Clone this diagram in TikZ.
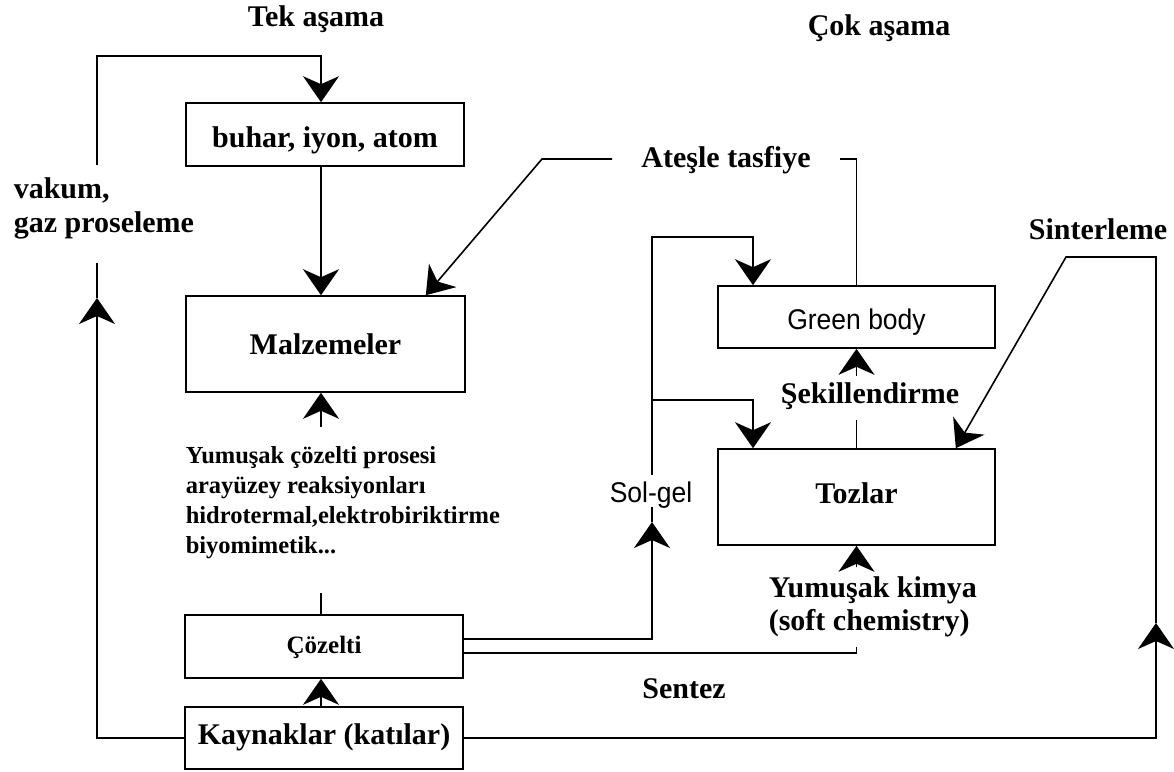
\documentclass[tikz,border=0pt]{standalone}
\usepackage{fontspec}
\setmainfont{Liberation Serif}
\newfontfamily\sansf[FakeStretch=0.93]{Liberation Sans}
\usetikzlibrary{arrows.meta}
\begin{document}
\begin{tikzpicture}[x=1pt,y=-1pt, line width=1.6pt,
 box/.style={draw, rectangle, inner sep=0pt},
 arr/.style={-{Stealth[length=26pt,width=36pt,inset=8pt]}},
 bl/.style={font=\fontsize{30}{34}\selectfont\bfseries},
 sm/.style={font=\fontsize{24.5}{30}\selectfont\bfseries},
 sf/.style={font=\fontsize{28.5}{32}\selectfont\sansf},
 lab/.style={anchor=base, inner sep=0pt}]
\useasboundingbox (0,0) rectangle (1174,771);

% boxes
\node[box, minimum width=278pt, minimum height=63pt, bl, text height=25pt, text depth=0pt] (buhar) at (325,134.5) {buhar, iyon, atom};
\node[box, minimum width=279pt, minimum height=96pt, bl, text height=20pt, text depth=0pt] (malz) at (325.5,344) {Malzemeler};
\node[box, minimum width=278pt, minimum height=63pt, sm, font=\fontsize{25}{30}\selectfont\bfseries, text height=13pt, text depth=0pt] (coz) at (324,646.5) {Çözelti};
\node[box, minimum width=278pt, minimum height=62pt, bl, text height=12pt, text depth=0pt] (kay) at (324,738) {Kaynaklar (katılar)};
\node[box, minimum width=277pt, minimum height=62pt, sf, text height=24pt, text depth=0pt] (gb) at (856.5,317) {Green body};
\node[box, minimum width=277pt, minimum height=96pt, bl, text height=12pt, text depth=0pt] (toz) at (856.5,497) {Tozlar};

% labels
\node[lab, bl] (tek) at (316,27) {Tek aşama};
\node[lab, bl] (cok) at (879,35) {Çok aşama};
\node[lab, bl, anchor=base west] (vak) at (13,198) {vakum,};
\node[lab, bl, anchor=base west] (gaz) at (13,232) {gaz proseleme};
\node[lab, sm, anchor=base west] (ya1) at (185,463) {Yumuşak çözelti prosesi};
\node[lab, sm, anchor=base west] (ya2) at (185,493) {arayüzey reaksiyonları};
\node[lab, sm, anchor=base west] (ya3) at (185,523) {hidrotermal,elektrobiriktirme};
\node[lab, sm, anchor=base west] (ya4) at (185,553) {biyomimetik...};
\node[lab, bl] (ates) at (726,167) {Ateşle tasfiye};
\node[lab, bl] (sint) at (1098,239) {Sinterleme};
\node[lab, bl] (sek) at (870,403) {Şekillendirme};
\node[lab, sf] (solgel) at (651,502) {Sol-gel};
\node[lab, bl, anchor=base west] (yk1) at (768,597) {Yumuşak kimya};
\node[lab, bl, anchor=base west] (yk2) at (768,630) {(soft chemistry)};
\node[lab, bl] (sent) at (684,698) {Sentez};

% left column connectors
\coordinate (cx) at (321,0);
\coordinate (tl) at (97,165);
\coordinate (tc) at (321,56);
\draw[arr] (tl) |- (tc) -- (tc |- buhar.north);
\draw[arr] (buhar.south -| cx) -- (malz.north -| cx);
\coordinate (ya) at (321,427);
\draw[arr] (ya) -- (ya |- malz.south);
\coordinate (tk) at (321,593);
\draw (tk) -- (tk |- coz.north);
\draw[arr] (kay.north -| cx) -- (coz.south -| cx);
\coordinate (la) at (97,298);
\coordinate (lb) at (97,263);
\draw[arr] (kay.west) -| (la);
\draw (la) -- (lb);

% Atesle tasfiye
\coordinate (a1) at (612,159);
\coordinate (a2) at (542,159);
\draw[arr] (a1) -- (a2) -- ([xshift=-40pt]malz.north east);
\coordinate (a3) at (840,159);
\draw (a3) -| (gb.north);

% Sol-gel
\coordinate (s1) at (652,522);
\coordinate (s2) at (652,507);
\draw[arr] ([yshift=7.5pt]coz.east) -| (s1);
\draw (s1) -- (s2);
\coordinate (s3) at (652,475);
\coordinate (s4) at (753,237);
\draw[arr] (s3) |- (s4) -- (s4 |- gb.north);
\coordinate (s5) at (652,400);
\coordinate (s6) at (753,400);
\draw[arr] (s5) -- (s6) -- (s6 |- toz.north);

% Yumusak kimya
\coordinate (k1) at (856.5,647);
\draw ([yshift=-6.5pt]coz.east) -| (k1);
\coordinate (k2) at (856.5,567);
\draw[arr] (k2) -- (k2 |- toz.south);

% Sekillendirme
\coordinate (e1) at (856.5,420);
\draw (toz.north) -- (e1);
\coordinate (e2) at (856.5,376);
\draw[arr] (e2) -- (gb.south);

% Sinterleme loop
\coordinate (r1) at (1156,623);
\coordinate (r2) at (1066,257);
\draw[arr] (kay.east) -| (r1);
\draw[arr] (r1) |- (r2) -- ([xshift=-40pt]toz.north east);
\end{tikzpicture}
\end{document}
